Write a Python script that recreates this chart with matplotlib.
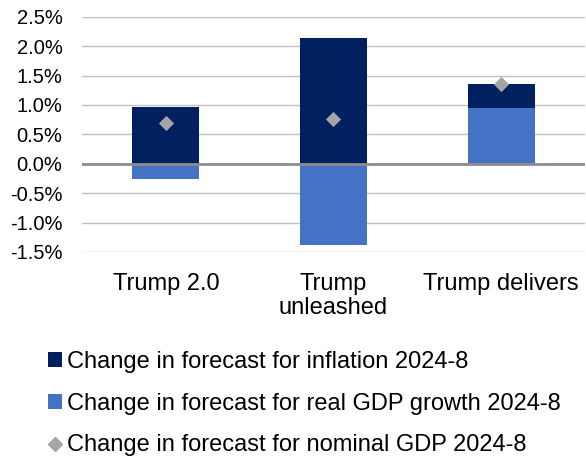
import numpy as np
import matplotlib.pyplot as plt
from matplotlib.patches import Patch
from matplotlib.lines import Line2D
from matplotlib.ticker import PercentFormatter

plt.rcParams['font.family'] = ['Liberation Sans', 'DejaVu Sans']
plt.rcParams['axes.unicode_minus'] = False

# data (percentage points)
scenarios = ['Trump 2.0', 'Trump\nunleashed', 'Trump delivers']
inflation = [0.96, 2.14, 0.42]
real_gdp = [-0.26, -1.38, 0.94]
nominal_gdp = [0.69, 0.765, 1.36]

c_infl = '#002060'
c_real = '#4472C4'
c_nom = '#A5A5A5'

fig = plt.figure(figsize=(5.86, 4.59), dpi=100)
ax = fig.add_axes([0.14, 0.451, 0.858, 0.5126])

x = np.arange(len(scenarios))
w = 0.4
real = np.array(real_gdp)
infl = np.array(inflation)
# inflation stacks on top of positive real growth, otherwise starts at zero
infl_base = np.where(real > 0, real, 0)

ax.bar(x, real, w, color=c_real, zorder=2)
ax.bar(x, infl, w, bottom=infl_base, color=c_infl, zorder=2)
ax.scatter(x, nominal_gdp, marker='D', s=60, color=c_nom, zorder=4, linewidths=0)

ax.axhline(0, color='#8c8c8c', lw=2, zorder=3)
ax.set_ylim(-1.5, 2.5)
ax.set_yticks(np.arange(-1.5, 2.51, 0.5))
ax.yaxis.set_major_formatter(PercentFormatter(decimals=1))
ax.yaxis.grid(True, color='#c0c0c0', lw=1, zorder=0)
ax.set_axisbelow(True)
ax.set_xlim(-0.5, 2.5)
ax.set_xticks(x)
ax.set_xticklabels(scenarios, linespacing=1.15)
for s in ax.spines.values():
    s.set_visible(False)
ax.tick_params(axis='y', length=0, pad=14, labelsize=14.5, colors='black')
ax.tick_params(axis='x', length=0, pad=15, labelsize=17, colors='black')

handles = [
    Patch(facecolor=c_infl, edgecolor='none'),
    Patch(facecolor=c_real, edgecolor='none'),
    Line2D([], [], marker='D', color=c_nom, linestyle='none', markersize=7),
]
labels = ['Change in forecast for inflation 2024-8',
          'Change in forecast for real GDP growth 2024-8',
          'Change in forecast for nominal GDP 2024-8']
fig.legend(handles, labels, loc='upper left', bbox_to_anchor=(0.082, 0.236),
           frameon=False, fontsize=17, labelspacing=0.84, handlelength=0.58,
           handleheight=0.58, handletextpad=0.21, borderpad=0, borderaxespad=0)

fig.savefig('out.png', dpi=100)
